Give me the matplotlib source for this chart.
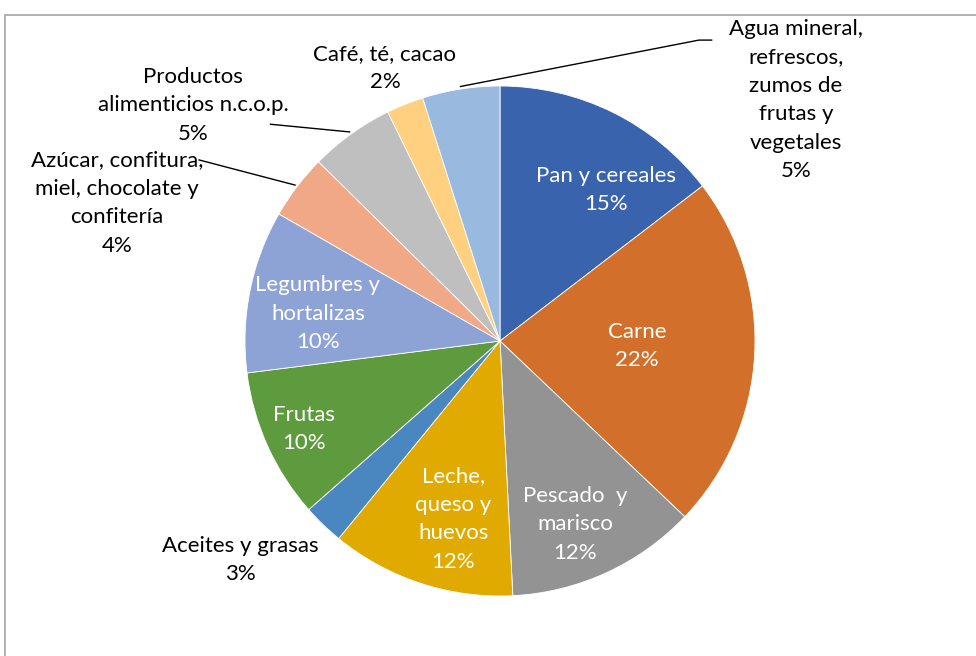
import matplotlib.pyplot as plt
from matplotlib.patches import Rectangle
import numpy as np

plt.rcParams['font.family'] = ['Lato', 'DejaVu Sans']

categorias = ['Pan y cereales', 'Carne', 'Pescado  y\nmarisco', 'Leche,\nqueso y\nhuevos',
              'Aceites y grasas', 'Frutas', 'Legumbres y\nhortalizas',
              'Azúcar, confitura,\nmiel, chocolate y\nconfitería', 'Productos\nalimenticios n.c.o.p.',
              'Café, té, cacao', 'Agua mineral,\nrefrescos,\nzumos de\nfrutas y\nvegetales']
valores = [14.6, 22.5, 12.1, 11.7, 2.6, 9.5, 10.3, 4.1, 5.35, 2.35, 4.9]
etiquetas_pct = ['15%', '22%', '12%', '12%', '3%', '10%', '10%', '4%', '5%', '2%', '5%']
colores = ['#3A63AD', '#D2702B', '#939393', '#E1AA00', '#4A86BF', '#5E9B3E',
           '#8EA3D5', '#F0A887', '#BFBFBF', '#FED080', '#99B9DF']

# label placement (data coords, pie radius = 1) and whether label sits inside
pos_etiquetas = [(0.416, 0.592), (0.537, -0.02), (0.294, -0.718), (-0.184, -0.698),
                 (-1.02, -0.859), (-0.769, -0.345), (-0.714, 0.106),
                 (-1.502, 0.541), (-1.204, 0.925), (-0.451, 1.071), (1.161, 0.945)]
dentro = [True, True, True, True, False, True, True, False, False, False, False]

W, H = 976, 656
cx, cy, R = 500, 341, 255
fig = plt.figure(figsize=(W / 100, H / 100), dpi=100)
ax = fig.add_axes([(cx - R) / W, (H - cy - R) / H, 2 * R / W, 2 * R / H])

wedges, _ = ax.pie(valores, colors=colores, startangle=90, counterclock=False,
                   radius=1, wedgeprops=dict(edgecolor='white', linewidth=0.6))
ax.set_xlim(-1, 1)
ax.set_ylim(-1, 1)
ax.set_aspect('equal')
ax.axis('off')

for cat, pct, (x, y), inn in zip(categorias, etiquetas_pct, pos_etiquetas, dentro):
    ax.text(x, y, cat + '\n' + pct, ha='center', va='center', fontsize=16,
            linespacing=1.53, color='white' if inn else 'black', clip_on=False)

# leader lines for a few outer labels
def punto_borde(i):
    w = wedges[i]
    a = np.deg2rad((w.theta1 + w.theta2) / 2)
    return np.cos(a), np.sin(a)

lineas = {7: [(-1.18, 0.71)], 8: [(-0.90, 0.85)], 10: [(0.78, 1.18), (0.83, 1.18)]}
for i, pts in lineas.items():
    x0, y0 = punto_borde(i)
    xs = [x0 * 1.01] + [p[0] for p in pts]
    ys = [y0 * 1.01] + [p[1] for p in pts]
    ax.plot(xs, ys, color='black', lw=1, clip_on=False)

fig.patches.append(Rectangle((5 / W, -0.05), 1.1, 1 - 15 / H + 0.05, transform=fig.transFigure,
                             fill=False, edgecolor='#A6A6A6', lw=1.2))

fig.savefig('out.png', dpi=100, facecolor='white')
